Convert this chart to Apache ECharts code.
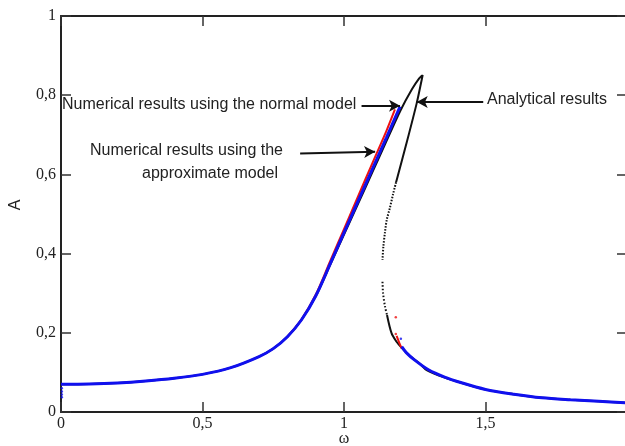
<!DOCTYPE html>
<html><head><meta charset="utf-8">
<script src="https://cdn.jsdelivr.net/npm/echarts@6/dist/echarts.min.js"></script>
<style>html,body{margin:0;padding:0;background:#fff}#c{width:625px;height:446px}</style>
</head><body><div id="c"></div>
<script>
// x tick labels and y tick labels
const xTicks = [0, 0.5, 1, 1.5, 2];
const yTicks = [0, 0.2, 0.4, 0.6, 0.8, 1];

// Analytical results (black): stable upper branch up to the tip, then back
const analyticUpper = [[0,0.070],[0.1,0.0705],[0.2,0.073],[0.3,0.078],[0.4,0.085],[0.5,0.095],[0.6,0.112],[0.7,0.140],[0.75,0.160],[0.8,0.190],[0.85,0.233],[0.9,0.292],[0.95,0.370],[1.0,0.448],[1.05,0.526],[1.1,0.605],[1.15,0.684],[1.2,0.762],[1.24,0.815],[1.265,0.842],[1.278,0.851],[1.272,0.830],[1.257,0.780],[1.221,0.679],[1.190,0.596],[1.184,0.580]];
const analyticUnstable1 = [[1.184,0.580],[1.174,0.552],[1.162,0.515],[1.151,0.485],[1.145,0.455],[1.139,0.417],[1.136,0.384]];
const analyticUnstable2 = [[1.136,0.329],[1.138,0.300],[1.145,0.266],[1.152,0.245]];
const analyticLower = [[1.152,0.245],[1.168,0.199],[1.185,0.178],[1.204,0.162],[1.235,0.140],[1.268,0.122],[1.292,0.106],[1.363,0.085],[1.4,0.077],[1.5,0.0565],[1.6,0.045],[1.7,0.036],[1.8,0.031],[1.9,0.027],[2.0,0.023]];

// Numerical results using the normal model (blue)
const normalUpper = [[0,0.070],[0.1,0.0705],[0.2,0.073],[0.3,0.078],[0.4,0.085],[0.5,0.095],[0.6,0.112],[0.7,0.140],[0.75,0.160],[0.8,0.190],[0.85,0.233],[0.9,0.293],[0.95,0.372],[1.0,0.453],[1.05,0.533],[1.1,0.613],[1.15,0.693],[1.198,0.771]];
const normalLower = [[1.204,0.165],[1.22,0.150],[1.25,0.131],[1.3,0.106],[1.363,0.086],[1.4,0.077],[1.5,0.057],[1.6,0.045],[1.7,0.036],[1.8,0.031],[1.9,0.027],[2.0,0.023]];
const normalStray = [[0.003,0.060],[0.003,0.052],[0.003,0.044],[0.003,0.037],[1.201,0.185]];

// Numerical results using the approximate model (red)
const approxUpper = [[0.8,0.190],[0.85,0.234],[0.9,0.296],[0.95,0.379],[1.0,0.462],[1.05,0.545],[1.1,0.628],[1.15,0.710],[1.18,0.764]];
const approxLower = [[1.186,0.192],[1.195,0.175],[1.204,0.160]];
const approxStray = [[1.183,0.239],[1.183,0.197]];

// annotation arrows [from, to]
const arrowNormal = [[1.062,0.7735],[1.198,0.7735]];
const arrowApprox = [[0.845,0.653],[1.110,0.657]];
const arrowAnalytic = [[1.492,0.783],[1.257,0.783]];

const fmt = v => String(v).replace('.', ',');
const chart = echarts.init(document.getElementById('c'));
const axisLine = {show:true, onZero:false, lineStyle:{color:'#222', width:2}};
const tick = {show:true, inside:true, length:10, lineStyle:{color:'#333', width:1.5}};
const lbl = {fontFamily:'Liberation Serif', fontSize:16, color:'#222'};
function line(data, color, width, type, z){
  return {type:'line', data, smooth:0.3, showSymbol:false, symbol:'none', z, lineStyle:{color, width, type:type||'solid'}, silent:true, animation:false};
}
function arrow(seg){
  return [{coord:seg[0], symbol:'none'},{coord:seg[1], symbol:'arrow'}];
}
chart.setOption({
  animation:false,
  grid:{left:61, top:16, width:566, height:396, outerBoundsMode:'none', containLabel:false},
  xAxis:[
    {type:'value', min:0, max:2, interval:0.5, axisLine, axisTick:tick, splitLine:{show:false},
     axisLabel:Object.assign({margin:4, showMaxLabel:false, formatter:v=>xTicks.includes(v)?fmt(v):''}, lbl)},
    {type:'value', position:'top', min:0, max:2, interval:0.5, axisLine, axisTick:tick, axisLabel:{show:false}, splitLine:{show:false}}
  ],
  yAxis:[
    {type:'value', position:'left', min:0, max:1, interval:0.2, axisLine, axisTick:tick, splitLine:{show:false},
     axisLabel:Object.assign({margin:5, formatter:v=>yTicks.includes(+v.toFixed(1))?fmt(+v.toFixed(1)):''}, lbl)},
    {type:'value', position:'right', min:0, max:1, interval:0.2, axisLine, axisTick:tick, axisLabel:{show:false}, splitLine:{show:false}}
  ],
  graphic:[
    {type:'text', x:344, y:439, style:{text:'ω', font:'16px "Liberation Serif"', fill:'#222', textAlign:'center', textVerticalAlign:'middle'}},
    {type:'text', x:16, y:205, rotation:Math.PI/2, style:{text:'A', font:'16px "Liberation Sans"', fill:'#222', textAlign:'center', textVerticalAlign:'middle'}},
    {type:'text', x:62, y:105, style:{text:'Numerical results using the normal model', font:'16px "Liberation Sans"', fill:'#222', textVerticalAlign:'middle'}},
    {type:'text', x:90, y:151, style:{text:'Numerical results using the', font:'16px "Liberation Sans"', fill:'#222', textVerticalAlign:'middle'}},
    {type:'text', x:142, y:174, style:{text:'approximate model', font:'16px "Liberation Sans"', fill:'#222', textVerticalAlign:'middle'}},
    {type:'text', x:487, y:100, style:{text:'Analytical results', font:'16px "Liberation Sans"', fill:'#222', textVerticalAlign:'middle'}}
  ],
  series:[
    line(analyticUpper,'#111',2,'solid',2),
    line(analyticUnstable1,'#111',2,[1.5,1.5],2),
    line(analyticUnstable2,'#111',2,[1.5,2],2),
    line(analyticLower,'#111',2,'solid',2),
    line(approxUpper,'#ee1111',2,'solid',3),
    line(approxLower,'#ee1111',2,'solid',3),
    {type:'scatter', data:approxStray, symbolSize:2.5, itemStyle:{color:'#ee1111'}, z:3, silent:true},
    line(normalUpper,'#1010ee',3,'solid',4),
    line(normalLower,'#1010ee',3,'solid',4),
    {type:'scatter', data:normalStray, symbolSize:2.5, itemStyle:{color:'#1010ee'}, z:4, silent:true},
    {type:'line', data:[], z:5, silent:true,
     markLine:{silent:true, animation:false, symbolSize:[9,11], label:{show:false},
       lineStyle:{color:'#111', width:2, type:'solid'},
       data:[arrow(arrowNormal), arrow(arrowApprox), arrow(arrowAnalytic)]}}
  ]
});
</script></body></html>
